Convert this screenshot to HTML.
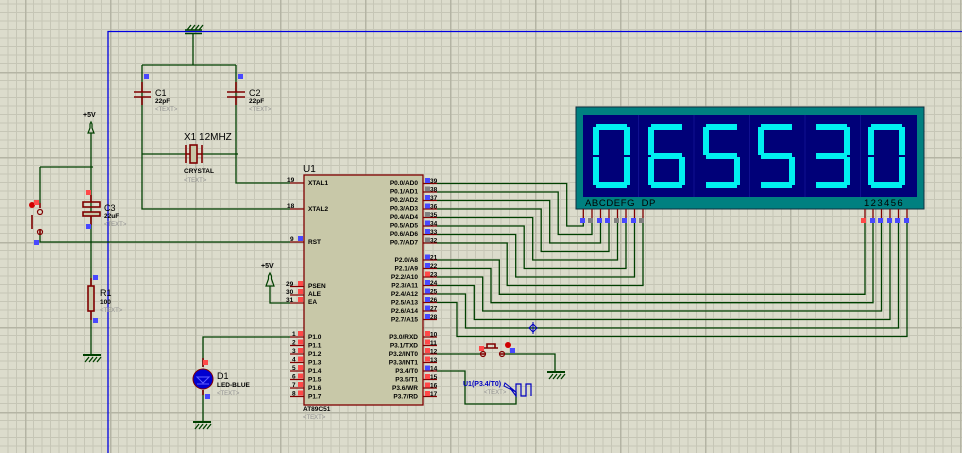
<!DOCTYPE html>
<html><head><meta charset="utf-8"><style>
html,body{margin:0;padding:0;background:#dcdccc;}
svg{display:block}
text{font-family:"Liberation Sans",sans-serif;}
</style></head><body>
<svg width="962" height="453" viewBox="0 0 962 453" xmlns="http://www.w3.org/2000/svg">
<defs>
<pattern id="g" patternUnits="userSpaceOnUse" x="25" y="-13" width="85" height="85">
<rect width="85" height="85" fill="#dcdccc"/>
<path d="M8.5 0V85M17 0V85M25.5 0V85M34 0V85M42.5 0V85M51 0V85M59.5 0V85M68 0V85M76.5 0V85M0 8.5H85M0 17H85M0 25.5H85M0 34H85M0 42.5H85M0 51H85M0 59.5H85M0 68H85M0 76.5H85" stroke="#c6c6b6" stroke-width="1"/>
<path d="M0.5 0V85M0 0.5H85" stroke="#b4b4a4" stroke-width="2"/>
</pattern>
</defs>
<rect width="962" height="453" fill="url(#g)"/>

<g stroke="#0000e0" stroke-width="1.3" fill="none">
<path d="M108 453V31.5H962"/>
</g>

<g stroke="#004000" stroke-width="1.3" fill="none">
<path d="M193 33V65M142 65H236M142 65V209H290M236 65V183H290"/>
<path d="M142 154H186M201 154H238"/>
<path d="M91 133V355M40 167H93M40 167V203M40 234V242H290"/>
<path d="M270 286V303H290"/>
<path d="M203 367V337H290M203 390V422"/>
<path d="M437 183.5H566.7V226H583.3V218"/>
<path d="M437 192H558.2V234.5H592V218"/>
<path d="M437 200.5H549.7V243H600.5V218"/>
<path d="M437 209H541.2V251.5H609V218"/>
<path d="M437 217.5H532.7V260H617.5V218"/>
<path d="M437 226H524.2V268.5H626V218"/>
<path d="M437 234.5H515.7V277H634.5V218"/>
<path d="M437 243H507.2V285.5H643V218"/>
<path d="M437 260H499.3V294.3H865V218"/>
<path d="M437 268.5H491V302.7H873V218"/>
<path d="M437 277H482.7V311H881.5V218"/>
<path d="M437 285.5H474.3V319.5H890V218"/>
<path d="M437 294H465.5V328H898.5V218"/>
<path d="M437 302.5H457V336.5H907V218"/>
<path d="M437 354H480M505 354H555V372"/>
<path d="M437 371H465V404H516V392"/>
</g>
<path d="M533 322V334M529 328L533 324L537 328L533 332Z" stroke="#0000c0" fill="none" stroke-width="1"/>

<g stroke="#004000" stroke-width="1.3" fill="none">
<path d="M185 33.5H202M185 30H202" stroke-width="1.6"/>
<path d="M187 30L191 25M191 30L195 25M195 30L199 25M199 30L203 25"/>
<path d="M83 355H101M85 362L89 357M89 362L93 357M93 362L97 357M97 362L101 357"/>
<path d="M193 422H211M195 429L199 424M199 429L203 424M203 429L207 424M207 429L211 424"/>
<path d="M547 372H565M549 379L553 374M553 379L557 374M557 379L561 374M561 379L565 374"/>
</g>
<rect x="83" y="354" width="18" height="2" fill="#004000"/>
<rect x="193" y="421" width="18" height="2" fill="#004000"/>
<rect x="547" y="371" width="18" height="2" fill="#004000"/>

<g stroke="#004000" stroke-width="1.2" fill="none">
<path d="M88 133H94L92 128V124L91 122L90 124V128Z"/>
<path d="M266 286H274L271.5 279V276L270 273L268.5 276V279Z"/>
</g>
<text x="83" y="117" font-size="7" font-weight="bold">+5V</text>
<text x="261" y="268" font-size="7" font-weight="bold">+5V</text>

<g stroke="#800000" stroke-width="1.6" fill="none">
<path d="M142 82V92M134 92H151M134 97H151M142 97V105"/>
<path d="M236 82V92M227 92H245M227 97H245M236 97V105"/>
<path d="M186 154H190M197 154H202M186 145V163M202 145V163"/>
<rect x="190" y="145" width="7" height="18" fill="#c8c8a8"/>
<path d="M91 195V202M91 216V225"/>
<rect x="83" y="202" width="17" height="5" fill="none"/>
<rect x="83" y="212" width="17" height="4" fill="#c8c8a8"/>
<rect x="88" y="286" width="6" height="25" fill="#c8c8a8"/>
<path d="M91 278V286M91 311V320"/>
<path d="M40 203V208M40 229V234M32 215V229"/>
<circle cx="40" cy="212" r="2.5" fill="none" stroke-width="1.2"/>
<circle cx="40" cy="232" r="2.5" fill="none" stroke-width="1.2"/>
<path d="M481 354H485M500 354H505M484 348H498M487 348V344H495V348"/>
<circle cx="483" cy="354" r="2.5" stroke-width="1.2"/>
<circle cx="502" cy="354" r="2.5" stroke-width="1.2"/>
<path d="M203 358V367M203 390V395"/>
</g>
<path d="M516 392L504 386L505 383Z" fill="none" stroke="#0000c0"/>
<path d="M510 388L516 396V384H521V396H526V384H531V396" fill="none" stroke="#0000c0" stroke-width="1.2"/>
<circle cx="32" cy="205" r="3" fill="#d00000"/>
<circle cx="508" cy="345" r="3" fill="#d00000"/>
<circle cx="203" cy="379" r="10" fill="#0000d0" stroke="#800000" stroke-width="1"/>
<path d="M197 377H209L203 383Z M197 384H209" stroke="#6060ff" fill="none"/>

<g font-size="9">
<text x="155" y="96">C1</text><text x="249" y="96">C2</text>
<text x="184" y="140" font-size="10">X1 12MHZ</text>
<text x="104" y="211">C3</text><text x="100" y="296">R1</text>
<text x="217" y="379">D1</text><text x="303" y="172" font-size="10">U1</text>
</g>
<g font-size="6.5" font-weight="bold">
<text x="155" y="103">22pF</text><text x="249" y="103">22pF</text>
<text x="184" y="173">CRYSTAL</text><text x="104" y="218">22uF</text>
<text x="100" y="304">100</text><text x="217" y="387">LED-BLUE</text>
<text x="303" y="411">AT89C51</text>
</g>
<g font-size="6" fill="#909090">
<text x="155" y="111">&lt;TEXT&gt;</text><text x="249" y="111">&lt;TEXT&gt;</text>
<text x="184" y="182">&lt;TEXT&gt;</text><text x="104" y="226">&lt;TEXT&gt;</text>
<text x="100" y="312">&lt;TEXT&gt;</text><text x="217" y="395">&lt;TEXT&gt;</text>
<text x="303" y="419">&lt;TEXT&gt;</text><text x="484" y="394">&lt;TEXT&gt;</text>
</g>
<text x="463" y="386" font-size="7" font-weight="bold" fill="#0000c0">U1(P3.4/T0)</text>

<rect x="304" y="175" width="119" height="230" fill="#c8c8a8" stroke="#800000" stroke-width="1.3"/>
<g stroke="#800000" stroke-width="1.3">
<path d="M290 183H304M290 209H304M290 242H304M290 286.5H304M290 295H304M290 303H304"/>
<path d="M290 337H304M290 345.5H304M290 354H304M290 362.5H304M290 371H304M290 379.5H304M290 388H304M290 396.5H304"/>
<path d="M423 183.5H437M423 192H437M423 200.5H437M423 209H437M423 217.5H437M423 226H437M423 234.5H437M423 243H437"/>
<path d="M423 260H437M423 268.5H437M423 277H437M423 285.5H437M423 294H437M423 302.5H437M423 311H437M423 319.5H437"/>
<path d="M423 337H437M423 345.5H437M423 354H437M423 362.5H437M423 371H437M423 379.5H437M423 388H437M423 396.5H437"/>
</g>
<g font-size="6.5" font-weight="bold">
<text x="308" y="185">XTAL1</text><text x="308" y="211">XTAL2</text><text x="308" y="244">RST</text>
<text x="308" y="288">PSEN</text><text x="308" y="296">ALE</text><text x="308" y="304">EA</text>
<text x="308" y="339">P1.0</text><text x="308" y="347.5">P1.1</text><text x="308" y="356">P1.2</text><text x="308" y="364.5">P1.3</text>
<text x="308" y="373">P1.4</text><text x="308" y="381.5">P1.5</text><text x="308" y="390">P1.6</text><text x="308" y="398.5">P1.7</text>
</g>
<g font-size="6.5" font-weight="bold" text-anchor="end">
<text x="418" y="185">P0.0/AD0</text><text x="418" y="193.5">P0.1/AD1</text><text x="418" y="202">P0.2/AD2</text><text x="418" y="210.5">P0.3/AD3</text>
<text x="418" y="219">P0.4/AD4</text><text x="418" y="227.5">P0.5/AD5</text><text x="418" y="236">P0.6/AD6</text><text x="418" y="244.5">P0.7/AD7</text>
<text x="418" y="262">P2.0/A8</text><text x="418" y="270.5">P2.1/A9</text><text x="418" y="279">P2.2/A10</text><text x="418" y="287.5">P2.3/A11</text>
<text x="418" y="296">P2.4/A12</text><text x="418" y="304.5">P2.5/A13</text><text x="418" y="313">P2.6/A14</text><text x="418" y="321.5">P2.7/A15</text>
<text x="418" y="339">P3.0/RXD</text><text x="418" y="347.5">P3.1/TXD</text><text x="418" y="356">P3.2/INT0</text><text x="418" y="364.5">P3.3/INT1</text>
<text x="418" y="373">P3.4/T0</text><text x="418" y="381.5">P3.5/T1</text><text x="418" y="390">P3.6/WR</text><text x="418" y="398.5">P3.7/RD</text>
</g>
<g font-size="6.5" font-weight="bold">
<text x="287" y="182">19</text><text x="287" y="208">18</text><text x="290" y="241">9</text>
<text x="286" y="286">29</text><text x="286" y="294">30</text><text x="286" y="302">31</text>
<text x="292" y="336">1</text><text x="292" y="344.5">2</text><text x="292" y="353">3</text><text x="292" y="361.5">4</text>
<text x="292" y="370">5</text><text x="292" y="378.5">6</text><text x="292" y="387">7</text><text x="292" y="395.5">8</text>
<text x="430" y="183">39</text><text x="430" y="191.5">38</text><text x="430" y="200">37</text><text x="430" y="208.5">36</text>
<text x="430" y="217">35</text><text x="430" y="225.5">34</text><text x="430" y="234">33</text><text x="430" y="242.5">32</text>
<text x="430" y="259.5">21</text><text x="430" y="268">22</text><text x="430" y="276.5">23</text><text x="430" y="285">24</text>
<text x="430" y="293.5">25</text><text x="430" y="302">26</text><text x="430" y="310.5">27</text><text x="430" y="319">28</text>
<text x="430" y="336.5">10</text><text x="430" y="345">11</text><text x="430" y="353.5">12</text><text x="430" y="362">13</text>
<text x="430" y="370.5">14</text><text x="430" y="379">15</text><text x="430" y="387.5">16</text><text x="430" y="396">17</text>
</g>
<g fill="#4848ff">
<rect x="425" y="178" width="5" height="5"/><rect x="425" y="195" width="5" height="5"/><rect x="425" y="203.5" width="5" height="5"/>
<rect x="425" y="220.5" width="5" height="5"/><rect x="425" y="229" width="5" height="5"/>
<rect x="425" y="254.5" width="5" height="5"/><rect x="425" y="263" width="5" height="5"/><rect x="425" y="280" width="5" height="5"/>
<rect x="425" y="288.5" width="5" height="5"/><rect x="425" y="297" width="5" height="5"/><rect x="425" y="305.5" width="5" height="5"/><rect x="425" y="314" width="5" height="5"/>
<rect x="425" y="365.5" width="5" height="5"/><rect x="298" y="236" width="5" height="5"/>
<rect x="144" y="74" width="5" height="5"/><rect x="238" y="74" width="5" height="5"/>
<rect x="86" y="224" width="5" height="5"/><rect x="34" y="240" width="5" height="5"/>
<rect x="93" y="275" width="5" height="5"/><rect x="93" y="318" width="5" height="5"/>
<rect x="205" y="394" width="5" height="5"/><rect x="510" y="348" width="5" height="5"/>
<rect x="580" y="218" width="5" height="5"/><rect x="597" y="218" width="5" height="5"/><rect x="605" y="218" width="5" height="5"/>
<rect x="622" y="218" width="5" height="5"/><rect x="631" y="218" width="5" height="5"/>
<rect x="870" y="218" width="5" height="5"/><rect x="878" y="218" width="5" height="5"/><rect x="887" y="218" width="5" height="5"/>
<rect x="895" y="218" width="5" height="5"/><rect x="904" y="218" width="5" height="5"/>
</g>
<g fill="#808080">
<rect x="425" y="186.5" width="5" height="5"/><rect x="425" y="212" width="5" height="5"/><rect x="425" y="237.5" width="5" height="5"/>
<rect x="588" y="218" width="5" height="5"/><rect x="614" y="218" width="5" height="5"/><rect x="639" y="218" width="5" height="5"/>
</g>
<g fill="#ff4848">
<rect x="425" y="271.5" width="5" height="5"/>
<rect x="425" y="331" width="5" height="5"/><rect x="425" y="339.5" width="5" height="5"/><rect x="425" y="348" width="5" height="5"/><rect x="425" y="356.5" width="5" height="5"/>
<rect x="425" y="374" width="5" height="5"/><rect x="425" y="382.5" width="5" height="5"/><rect x="425" y="391" width="5" height="5"/>
<rect x="298" y="281" width="5" height="5"/><rect x="298" y="289" width="5" height="5"/><rect x="298" y="297" width="5" height="5"/>
<rect x="298" y="331" width="5" height="5"/><rect x="298" y="339.5" width="5" height="5"/><rect x="298" y="348" width="5" height="5"/><rect x="298" y="356.5" width="5" height="5"/>
<rect x="298" y="365" width="5" height="5"/><rect x="298" y="373.5" width="5" height="5"/><rect x="298" y="382" width="5" height="5"/><rect x="298" y="390.5" width="5" height="5"/>
<rect x="86" y="190" width="5" height="5"/><rect x="34" y="200" width="5" height="5"/>
<rect x="203" y="360" width="5" height="5"/><rect x="479" y="346" width="5" height="5"/>
<rect x="861" y="218" width="5" height="5"/>
</g>

<rect x="576" y="107" width="348" height="102" fill="#008080" stroke="#103040" stroke-width="1"/>
<rect x="583" y="115" width="334" height="82" fill="#000078"/>
<g stroke="#101090" stroke-width="1">
<path d="M638.5 115V197M694 115V197M749.5 115V197M805 115V197M860.5 115V197"/>
</g>
<g stroke="#800000" stroke-width="1.3">
<path d="M583.3 209V218M592 209V218M600.5 209V218M609 209V218M617.5 209V218M626 209V218M634.5 209V218M643 209V218"/>
<path d="M865 209V218M873 209V218M881.5 209V218M890 209V218M898.5 209V218M907 209V218"/>
</g>
<text x="585" y="206" font-size="9.5" letter-spacing="0.6" xml:space="preserve">ABCDEFG  DP</text>
<text x="864" y="206" font-size="9.5" letter-spacing="1.4">123456</text>
<g fill="#00f0f0">
<g transform="translate(593,124)"><rect x="3" y="0" width="31" height="6"/><rect x="31" y="3" width="6" height="28"/><rect x="31" y="33" width="6" height="28"/><rect x="3" y="58" width="31" height="6"/><rect x="0" y="33" width="6" height="28"/><rect x="0" y="3" width="6" height="28"/></g>
<g transform="translate(648,124)"><rect x="3" y="0" width="31" height="6"/><rect x="31" y="33" width="6" height="28"/><rect x="3" y="58" width="31" height="6"/><rect x="0" y="33" width="6" height="28"/><rect x="0" y="3" width="6" height="28"/><rect x="3" y="29" width="31" height="6"/></g>
<g transform="translate(703,124)"><rect x="3" y="0" width="31" height="6"/><rect x="31" y="33" width="6" height="28"/><rect x="3" y="58" width="31" height="6"/><rect x="0" y="3" width="6" height="28"/><rect x="3" y="29" width="31" height="6"/></g>
<g transform="translate(758,124)"><rect x="3" y="0" width="31" height="6"/><rect x="31" y="33" width="6" height="28"/><rect x="3" y="58" width="31" height="6"/><rect x="0" y="3" width="6" height="28"/><rect x="3" y="29" width="31" height="6"/></g>
<g transform="translate(813,124)"><rect x="3" y="0" width="31" height="6"/><rect x="31" y="3" width="6" height="28"/><rect x="31" y="33" width="6" height="28"/><rect x="3" y="58" width="31" height="6"/><rect x="3" y="29" width="31" height="6"/></g>
<g transform="translate(868,124)"><rect x="3" y="0" width="31" height="6"/><rect x="31" y="3" width="6" height="28"/><rect x="31" y="33" width="6" height="28"/><rect x="3" y="58" width="31" height="6"/><rect x="0" y="33" width="6" height="28"/><rect x="0" y="3" width="6" height="28"/></g>
</g>
</svg>
</body></html>
